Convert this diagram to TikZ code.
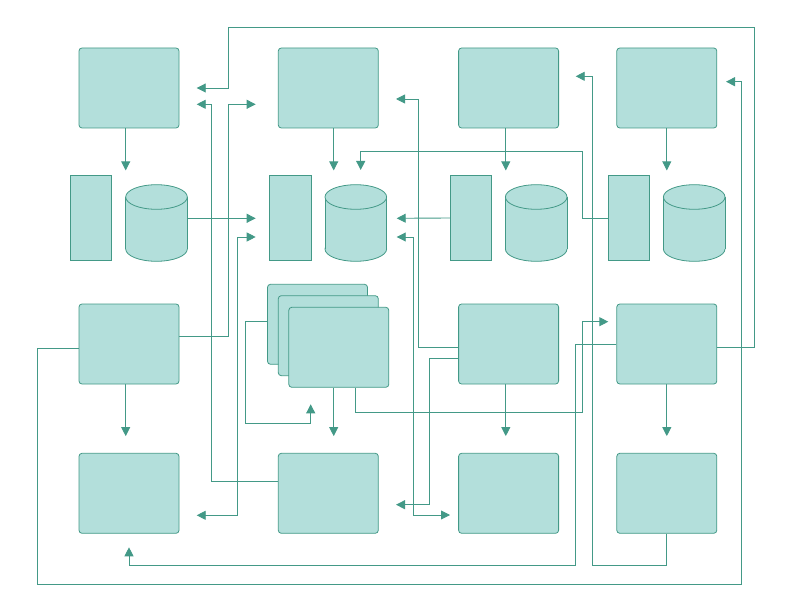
\documentclass[tikz,border=0pt]{standalone}
\usetikzlibrary{arrows.meta,backgrounds}
\definecolor{fillc}{RGB}{179,223,219}
\definecolor{linec}{RGB}{67,153,135}
\begin{document}
\begin{tikzpicture}[x=1pt,y=-1pt,
  box/.style={draw=linec,fill=fillc,rounded corners=3pt,minimum width=100pt,minimum height=80pt,inner sep=0pt,line width=0.8pt},
  tallbox/.style={draw=linec,fill=fillc,minimum width=41.4pt,minimum height=85.4pt,inner sep=0pt,line width=0.8pt},
  conn/.style={draw=linec,line width=0.9pt},
  arr/.style={conn,-{Triangle[length=9pt,width=9pt]}},
  darr/.style={conn,{Triangle[length=9pt,width=9pt]}-{Triangle[length=9pt,width=9pt]}},
  dbcyl/.pic={
    \filldraw[fill=fillc,draw=linec,line width=0.8pt] (0,26) ellipse [x radius=30.8, y radius=12.3];
    \fill[fillc] (-30.8,-26) rectangle (30.8,26);
    \draw[linec,line width=0.8pt] (-30.8,-26) -- (-30.8,26) (30.8,-26) -- (30.8,26);
    \filldraw[fill=fillc,draw=linec,line width=0.8pt] (0,-26) ellipse [x radius=30.8, y radius=12.3];
    \coordinate (-e) at (30.8,-4.7);
  }]
\useasboundingbox (0,0) rectangle (792,612);

% nodes
\node[box] (b11) at (129,88) {};
\node[box] (b12) at (328.3,88) {};
\node[box] (b13) at (508.6,88) {};
\node[box] (b14) at (666.8,88) {};
\node[tallbox] (r1) at (91,218) {};
\node[tallbox] (r2) at (290.2,218) {};
\node[tallbox] (r3) at (471,218) {};
\node[tallbox] (r4) at (629,218) {};
\pic (c1) at (156.5,223) {dbcyl};
\pic (c2) at (355.8,223) {dbcyl};
\pic (c3) at (536.2,223) {dbcyl};
\pic (c4) at (694.2,223) {dbcyl};
\node[box] (b31) at (129,344) {};
\node[box] (s1) at (317.5,324.3) {};
\node[box] (s2) at (328.3,335.7) {};
\node[box] (s3) at (338.8,347.3) {};
\node[box] (b33) at (508.6,344) {};
\node[box] (b34) at (666.8,344) {};
\node[box] (b41) at (129,493.3) {};
\node[box] (b42) at (328.3,493.3) {};
\node[box] (b43) at (508.6,493.3) {};
\node[box] (b44) at (666.8,493.3) {};

% connectors
\begin{scope}[on background layer]
\draw[arr] ([xshift=-3.3pt]b11.south) -- ++(0,42);
\draw[arr] ([xshift=5.4pt]b12.south) -- ++(0,42);
\draw[arr] ([xshift=-2.8pt]b13.south) -- ++(0,42);
\draw[arr] (b14.south) -- ++(0,42);
\draw[arr] ([xshift=-3.3pt]b31.south) -- ++(0,51.7);
\draw[arr] ([xshift=-2.8pt]b33.south) -- ++(0,51.7);
\draw[arr] (b34.south) -- ++(0,51.7);
\draw[arr] ([xshift=-5.1pt]s3.south) -- ++(0,48.4);
\draw[arr] (c1-e) -- (255.7,218.3);
\draw[arr] (r3.west) -- (396.7,218.3);
\draw[arr] (r4.west) -| (582.3,151) -| (360.7,170);
\draw[arr] ([yshift=-3.3pt]b34.east) -| (754.3,27) -| (228.7,88) -- (196.7,88);
\draw[arr] ([yshift=11.7pt]b42.west) -| (211.3,104.3) -- (196.7,104.3);
\draw[arr] ([yshift=8pt]b31.east) -| (228.7,104.3) -- (255.7,104.3);
\draw[darr] (255.7,237) -| (237.7,515.3) -- (196.7,515.3);
\draw[arr] ([yshift=3.3pt]s1.west) -| (245.3,423.3) -| (310.7,404.3);
\draw[arr] ([xshift=16.9pt]s3.south) |- (582.3,412.3) |- (608.3,321.7);
\draw[arr] ([yshift=-4.3pt]b31.west) -| (37.3,584.7) -| (741.7,81.7) -- (726,81.7);
\draw[arr] (b34.west) -| (575.3,565) -| (129,547.3);
\draw[arr] ([xshift=-0.3pt]b44.south) |- (592.3,565) |- (575.7,76.3);
\draw[arr] ([yshift=-3.3pt]b33.west) -| (418.3,99) -- (396,99);
\draw[darr] (396.7,237) -| (413.7,515) -- (450,515);
\draw[arr] ([yshift=-14pt]b33.west) -| (429.7,504.7) -- (396,504.7);
\end{scope}
\end{tikzpicture}
\end{document}
